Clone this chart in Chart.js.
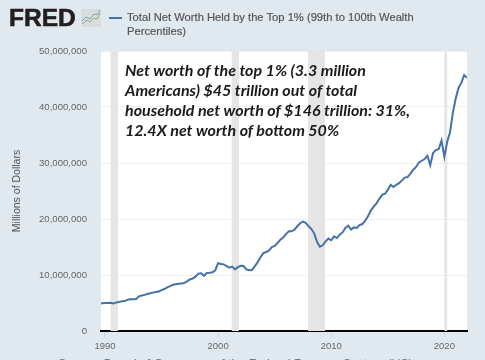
<!DOCTYPE html>
<html>
<head>
<meta charset="utf-8">
<script src="https://cdn.jsdelivr.net/npm/chart.js@4"></script>
<style>
html, body { margin: 0; padding: 0; background: #e1e9f0; overflow: hidden; }
#wrap { position: relative; width: 485px; height: 360px; overflow: hidden; }
#wrap div { position: absolute; white-space: nowrap; }
#logo { left: 9px; top: 4px; font: bold 24.5px "Liberation Sans", sans-serif; color: #231f20; -webkit-text-stroke: 0.6px #231f20; }
#spark { position: absolute; left: 81px; top: 9px; }
#legend { left: 127px; top: 10px; font: 11.2px/14px "Liberation Sans", sans-serif; color: #555; -webkit-text-stroke: 0.2px #555; }
#swatch { left: 109px; top: 17px; width: 13px; height: 2px; background: #4572a7; }
#note { left: 125px; top: 60px; font: italic bold 16px/20px Lato, sans-serif; color: #1a1a1a; }
#source { left: 58px; top: 357px; font: 12.3px "Liberation Sans", sans-serif; color: #777; }
</style>
</head>
<body>
<div id="wrap">
    <canvas id="chart" width="485" height="360"></canvas>
    <div id="logo">FRED</div>
    <svg id="spark" width="20" height="18">
        <rect width="20" height="18" fill="#d8dcdc"/>
        <polyline points="1,15 6,11 9,13 13,9 16,10 19,4" fill="none" stroke="#8ab07a" stroke-width="1"/>
        <polyline points="1,12 5,8 9,10 13,5 16,6 19,1" fill="none" stroke="#7f9fc0" stroke-width="1"/>
    </svg>
    <div id="swatch"></div>
    <div id="legend">Total Net Worth Held by the Top 1% (99th to 100th Wealth<br>Percentiles)</div>
    <div id="note">Net worth of the top 1% (3.3 million<br>Americans) $45 trillion out of total<br>household net worth of $146 trillion: 31%,<br>12.4X net worth of bottom 50%</div>
    <div id="source">Source: Board of Governors of the Federal Reserve System (US)</div>
</div>
<script>
var startYear = 1989.5;
// millions of dollars, one value per quarter
var netWorth = [
    4.9, 4.95,
    5.0, 5.0, 5.05, 4.9,
    5.1, 5.2, 5.3, 5.35,
    5.6, 5.65, 5.65, 5.7,
    6.2, 6.35, 6.45, 6.6,
    6.75, 6.85, 6.95, 7.05,
    7.3, 7.5, 7.8, 8.0,
    8.25, 8.35, 8.45, 8.5,
    8.55, 8.85, 9.2, 9.35,
    9.7, 10.25, 10.3, 9.85,
    10.35, 10.4, 10.5, 10.85,
    12.1, 11.95, 11.9, 11.6,
    11.3, 11.5, 11.0, 11.4,
    11.65, 11.6, 11.0, 10.85,
    10.9, 11.6, 12.3, 13.2,
    13.9, 14.1, 14.4, 15.0,
    15.2, 15.7, 16.3, 16.7,
    17.3, 17.8, 17.8, 18.1,
    18.7, 19.25, 19.55, 19.3,
    18.7, 18.2, 17.4, 15.9,
    15.05, 15.3, 16.0, 16.5,
    16.2, 16.9, 16.6, 17.2,
    17.6, 18.4, 18.8, 18.1,
    18.5, 18.4, 18.9, 19.1,
    19.7, 20.5, 21.5, 22.2,
    22.8, 23.6, 24.3, 24.5,
    25.2, 26.1, 25.7, 26.1,
    26.4, 26.9, 27.4, 27.5,
    28.1, 28.8, 29.3, 30.1,
    30.4, 30.7, 31.3, 29.6,
    31.8, 32.3, 32.5, 34.0,
    31.1, 33.8, 35.5, 39.0,
    41.5, 43.4, 44.3, 45.7,
    45.2
];
var recessionStart = [1990.5, 2001.2, 2007.95, 2020.0];
var recessionEnd = [1991.15, 2001.85, 2009.45, 2020.25];
var xTicks = [1990, 2000, 2010, 2020];

var points = netWorth.map(function (v, i) {
    return { x: startYear + i / 4, y: v * 1000000 };
});

var recessionBands = {
    id: 'recessionBands',
    beforeDatasetsDraw: function (chart) {
        var ctx = chart.ctx, a = chart.chartArea, xs = chart.scales.x;
        ctx.save();
        ctx.fillStyle = '#e5e5e5';
        recessionStart.forEach(function (s, i) {
            var l = xs.getPixelForValue(s), r = xs.getPixelForValue(recessionEnd[i]);
            ctx.fillRect(l, a.top, r - l, a.bottom - a.top);
        });
        ctx.restore();
    }
};
var plotBackground = {
    id: 'plotBackground',
    beforeDraw: function (chart) {
        var a = chart.chartArea;
        chart.ctx.fillStyle = '#fff';
        chart.ctx.fillRect(a.left, a.top, a.right - a.left, a.bottom - a.top);
    }
};

new Chart(document.getElementById('chart').getContext('2d'), {
    type: 'line',
    data: {
        datasets: [{
            data: points,
            borderColor: '#4572a7',
            borderWidth: 2,
            pointRadius: 0,
            tension: 0
        }]
    },
    plugins: [plotBackground, recessionBands],
    options: {
        responsive: false,
        animation: false,
        layout: { padding: { left: 11, top: 51, right: 18, bottom: 0 } },
        plugins: { legend: { display: false }, tooltip: { enabled: false } },
        scales: {
            x: {
                type: 'linear',
                min: 1989.65,
                max: 2022,
                afterBuildTicks: function (axis) {
                    axis.ticks = xTicks.map(function (v) { return { value: v }; });
                },
                afterFit: function (axis) { axis.height = 29; },
                grid: { drawOnChartArea: false, drawTicks: true, tickLength: 6, color: '#ccd6e0' },
                border: { color: '#000', width: 2 },
                ticks: {
                    color: '#666',
                    padding: 4,
                    maxRotation: 0,
                    autoSkip: false,
                    font: { family: 'Liberation Sans', size: 9.5 },
                    callback: function (v) { return String(v); }
                }
            },
            y: {
                min: 0,
                max: 50000000,
                afterFit: function (axis) { axis.width = 90; },
                grid: { color: '#f0f0f0', drawTicks: false },
                border: { display: false },
                title: {
                    display: true,
                    text: 'Millions of Dollars',
                    color: '#555',
                    padding: { top: 0, bottom: 22 },
                    font: { family: 'Liberation Sans', size: 10.5 }
                },
                ticks: {
                    stepSize: 10000000,
                    color: '#666',
                    padding: 14,
                    font: { family: 'Liberation Sans', size: 9.6 },
                    callback: function (v) { return v.toLocaleString('en-US'); }
                }
            }
        }
    }
});
</script>
</body>
</html>
